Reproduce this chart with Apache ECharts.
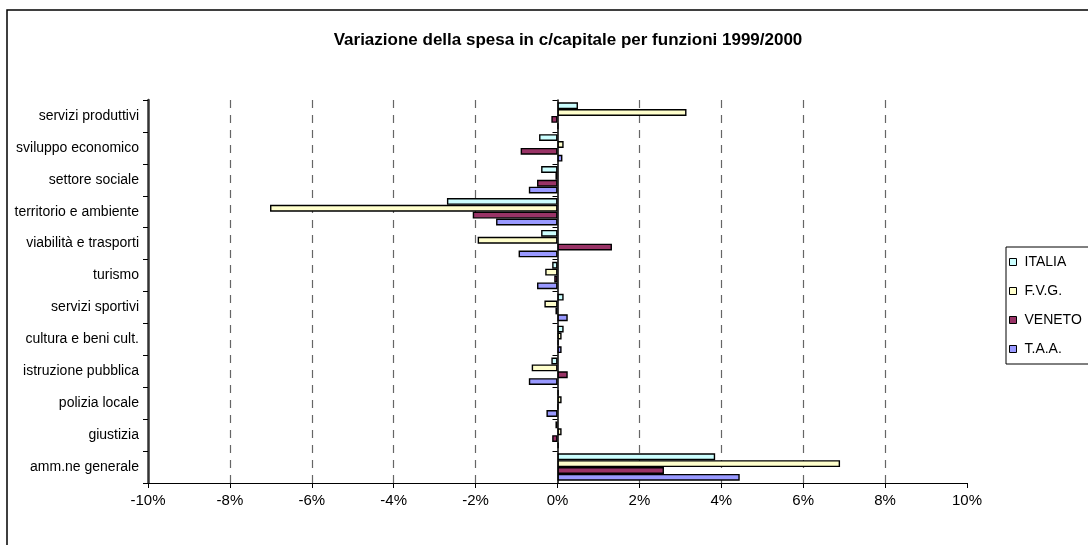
<!DOCTYPE html>
<html>
<head>
<meta charset="utf-8">
<script src="https://cdn.jsdelivr.net/npm/echarts@6/dist/echarts.min.js"></script>
<style>
html,body{margin:0;padding:0;background:#fff;}
#chart{width:1088px;height:545px;}
</style>
</head>
<body>
<div id="chart"></div>
<script>
const categories = ['servizi produttivi','sviluppo economico','settore sociale','territorio e ambiente','viabilità e trasporti','turismo','servizi sportivi','cultura e beni cult.','istruzione pubblica','polizia locale','giustizia','amm.ne generale'];
const italia = [0.5, -0.45, -0.4, -2.7, -0.4, -0.13, 0.15, 0.15, -0.15, 0.03, -0.05, 3.85];
const fvg    = [3.15, 0.15, -0.05, -7.02, -1.95, -0.3, -0.32, 0.1, -0.63, 0.1, 0.1, 6.9];
const veneto = [-0.15, -0.9, -0.5, -2.07, 1.33, -0.08, -0.05, 0.03, 0.25, 0.02, -0.13, 2.6];
const taa    = [0.02, 0.12, -0.7, -1.5, -0.95, -0.5, 0.25, 0.1, -0.7, -0.27, 0.03, 4.45];
const seriesNames = ['ITALIA','F.V.G.','VENETO','T.A.A.'];
const xTicks = [-10,-8,-6,-4,-2,0,2,4,6,8,10];
const colors = ['#ccffff','#ffffcc','#993366','#9999ff'];

const font = 'Liberation Sans, Arial, sans-serif';
const chart = echarts.init(document.getElementById('chart'));
const datasets = [italia, fvg, veneto, taa];
const gridColors = xTicks.map(v => (v === 0 || v === -10 || v === 10) ? 'rgba(0,0,0,0)' : '#666');

chart.setOption({
  animation: false,
  backgroundColor: '#fff',
  textStyle: { fontFamily: font },
  title: {
    text: 'Variazione della spesa in c/capitale per funzioni 1999/2000',
    left: 563, top: 27, textAlign: 'center',
    textStyle: { fontFamily: font, fontSize: 17, fontWeight: 'bold', color: '#000' }
  },
  graphic: [{
    type: 'rect', shape: { x: 7, y: 10, width: 1200, height: 600 },
    style: { fill: 'none', stroke: '#000', lineWidth: 1.5 }, silent: true, z: -1
  }],
  legend: {
    orient: 'vertical', left: 1006, top: 247,
    itemWidth: 7, itemHeight: 7, itemGap: 15,
    icon: 'rect',
    borderColor: '#000', borderWidth: 1, padding: [8, 40, 8, 3],
    itemStyle: { borderColor: '#000', borderWidth: 1 },
    textStyle: { fontFamily: font, fontSize: 14, color: '#000', padding: [0, 0, 0, 3] },
    data: seriesNames
  },
  grid: { left: 148, right: 121, top: 100, bottom: 62, containLabel: false },
  xAxis: {
    type: 'value', min: xTicks[0], max: xTicks[xTicks.length-1], interval: 2,
    axisLine: { show: true, onZero: false, lineStyle: { color: '#000', width: 1 } },
    axisTick: { show: true, length: 5, lineStyle: { color: '#000' } },
    axisLabel: { color: '#000', fontSize: 15, fontFamily: font, margin: 10, formatter: v => v + '%' },
    splitLine: { show: true, lineStyle: { color: gridColors, type: [8, 7], width: 1.2 } }
  },
  yAxis: [{
    type: 'category', inverse: true, data: categories,
    axisLine: { show: true, onZero: false, lineStyle: { color: '#333', width: 2.5 } },
    axisTick: { show: true, length: 5, lineStyle: { color: '#000' } },
    axisLabel: { color: '#000', fontSize: 14, fontFamily: font, margin: 9 },
    splitLine: { show: false }
  }, {
    type: 'category', inverse: true, data: categories, position: 'left',
    axisLine: { show: true, onZero: true, lineStyle: { color: '#000', width: 1.5 } },
    axisTick: { show: true, length: 5, lineStyle: { color: '#000' } },
    axisLabel: { show: false },
    splitLine: { show: false }
  }],
  series: seriesNames.map((name, i) => ({
    name, type: 'bar', data: datasets[i], yAxisIndex: 0,
    barGap: '0%', barCategoryGap: '14%',
    itemStyle: { color: colors[i], borderColor: '#000', borderWidth: 1.4 }
  }))
});
</script>
</body>
</html>
